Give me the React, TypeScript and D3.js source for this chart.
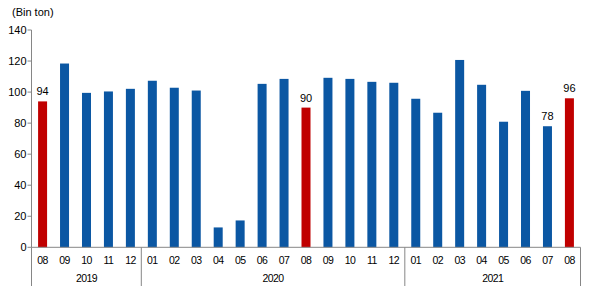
import React from "react";
import * as d3 from "d3";

const months = ["08","09","10","11","12","01","02","03","04","05","06","07","08","09","10","11","12","01","02","03","04","05","06","07","08"];
const years = ["2019","2020","2021"];
const yearCounts = [5, 12, 8];
const values = [94,118.4,99.5,100.4,102.1,107.3,102.8,101,12.8,17.3,105.3,108.5,90,109.2,108.5,106.6,106,95.7,86.7,120.7,104.7,80.9,100.8,78,96];
const highlighted = [0, 12, 24];
const labelled = [0, 12, 23, 24];
const yTicks = [0,20,40,60,80,100,120,140];

const W = 592, H = 298;
const m = { left: 31.5, right: 580.5, top: 30, bottom: 247.3 };

export default function App() {
  const idx = months.map((_, i) => i);
  const x = d3.scaleBand<number>().domain(idx).range([m.left, m.right]).paddingInner(0.59).paddingOuter(0.3);
  const y = d3.scaleLinear().domain([0, 140]).range([m.bottom, m.top]);
  const font = "'Liberation Sans', Arial, sans-serif";
  let acc = 0;
  const bounds = [m.left];
  yearCounts.forEach((c) => { acc += c; bounds.push(m.left + (m.right - m.left) * acc / months.length); });
  return (
    <svg width={W} height={H} style={{ position: "absolute", left: 0, top: 0 }} fontFamily={font}>
      <rect width={W} height={H} fill="#fff" />
      <text x={12} y={16} fontSize={11} fill="#000">(Bin ton)</text>
      <line x1={m.left} x2={m.left} y1={m.top} y2={m.bottom} stroke="#868686" />
      {yTicks.map((t) => (
        <g key={t}>
          <line x1={m.left - 4} x2={m.left} y1={y(t)} y2={y(t)} stroke="#868686" />
          <text x={m.left - 5} y={y(t)} dy="0.35em" textAnchor="end" fontSize={11} fill="#000">{t}</text>
        </g>
      ))}
      {values.map((v, i) => (
        <rect key={i} x={x(i)} y={y(v)} width={x.bandwidth()} height={y(0) - y(v)}
          fill={highlighted.includes(i) ? "#C00000" : "#0B57A3"} />
      ))}
      {labelled.map((i) => (
        <text key={i} x={(x(i) as number) + x.bandwidth() / 2} y={y(values[i]) - 6} textAnchor="middle" fontSize={11} fill="#000">
          {Math.round(values[i])}
        </text>
      ))}
      <line x1={m.left} x2={m.right} y1={m.bottom} y2={m.bottom} stroke="#868686" />
      {bounds.map((b, i) => (
        <line key={i} x1={b} x2={b} y1={m.bottom} y2={286} stroke="#868686" />
      ))}
      {months.map((mo, i) => (
        <text key={i} x={(x(i) as number) + x.bandwidth() / 2} y={260} dy="0.35em" textAnchor="middle" fontSize={10.5} letterSpacing={-0.6} fill="#000">{mo}</text>
      ))}
      {years.map((yr, i) => (
        <text key={yr} x={(bounds[i] + bounds[i + 1]) / 2} y={278} dy="0.35em" textAnchor="middle" fontSize={10.5} letterSpacing={-0.6} fill="#000">{yr}</text>
      ))}
    </svg>
  );
}
